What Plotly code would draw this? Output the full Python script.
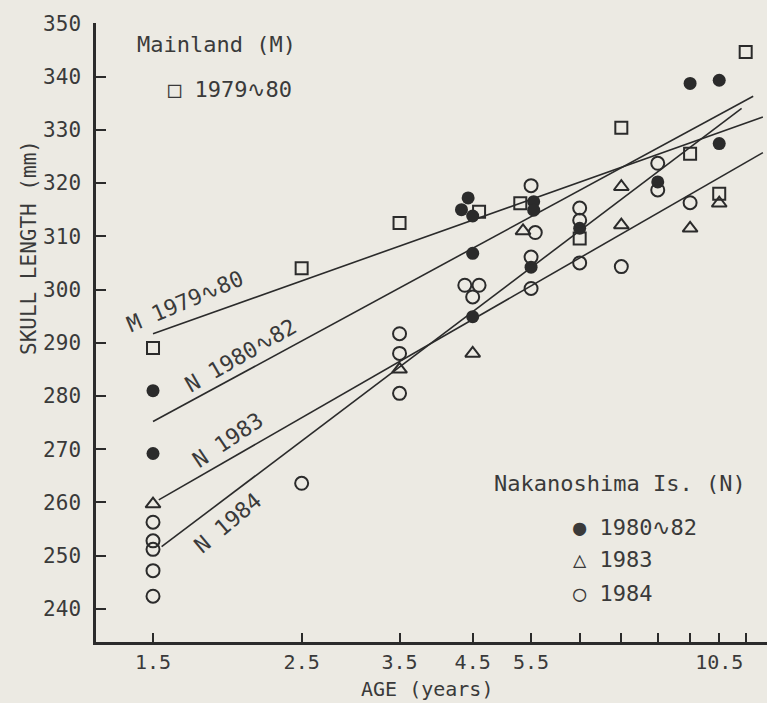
import plotly.graph_objects as go

# ---------------- data ----------------
x_tick_vals = [1.5, 2.5, 3.5, 4.5, 5.5, 6.5, 7.5, 8.5, 9.5, 10.5, 11.5]
x_tick_text = ["1.5", "2.5", "3.5", "4.5", "5.5", "", "", "", "", "10.5", ""]
y_tick_vals = [240, 250, 260, 270, 280, 290, 300, 310, 320, 330, 340, 350]

# Mainland (M) 1979~80 : open squares
m7980_age = [1.5, 2.5, 3.5, 4.6, 5.3, 6.5, 7.5, 9.5, 10.5, 11.5]
m7980_len = [289.0, 304.0, 312.5, 314.6, 316.2, 309.6, 330.4, 325.5, 318.0, 344.6]

# Nakanoshima (N) 1980~82 : filled circles
n8082_age = [1.5, 1.5, 4.33, 4.43, 4.5, 4.5, 4.5, 5.55, 5.55, 5.5, 6.5, 8.5, 9.5, 10.5, 10.5]
n8082_len = [281.0, 269.2, 315.0, 317.2, 313.8, 306.8, 294.9, 316.5, 314.9, 304.2, 311.5,
             320.2, 338.7, 339.3, 327.4]

# Nakanoshima (N) 1983 : open triangles
n83_age = [1.5, 3.5, 4.5, 5.35, 7.5, 7.5, 9.5, 10.5]
n83_len = [259.7, 285.0, 288.0, 311.0, 319.3, 312.1, 311.5, 316.2]

# Nakanoshima (N) 1984 : open circles
n84_age = [1.5, 1.5, 1.5, 1.5, 1.5, 2.5, 3.5, 3.5, 3.5, 4.38, 4.6, 4.5,
           5.5, 5.58, 5.5, 5.5, 6.5, 6.5, 6.5, 7.5, 8.5, 8.5, 9.5]
n84_len = [256.3, 252.8, 251.2, 247.2, 242.4, 263.6, 291.7, 288.0, 280.5, 300.8, 300.8, 298.6,
           319.5, 310.7, 306.1, 300.2, 315.3, 313.0, 305.0, 304.3, 323.7, 318.7, 316.3]

# fitted lines (end points)
fit_m7980_age = [1.5, 12.2]
fit_m7980_len = [291.7, 332.4]
fit_n8082_age = [1.5, 11.8]
fit_n8082_len = [275.2, 336.3]
fit_n83_age = [1.53, 12.2]
fit_n83_len = [260.5, 325.7]
fit_n84_age = [1.545, 11.34]
fit_n84_len = [251.7, 334.0]

# ---------------- style ----------------
BG = "#eceae3"
INK = "#2b2b2b"
TXT = "#3a3a3a"
FONT = "DejaVu Sans Mono"

W, H = 767, 703
L, R, T, B = 96, 0, 23, 61


def px(xp):
    return (xp - L) / (W - L - R)


def py(yp):
    return (H - B - yp) / (H - T - B)


fig = go.Figure()

for xs, ys in [(fit_m7980_age, fit_m7980_len), (fit_n8082_age, fit_n8082_len),
               (fit_n83_age, fit_n83_len), (fit_n84_age, fit_n84_len)]:
    fig.add_trace(go.Scatter(x=xs, y=ys, mode="lines",
                             line=dict(color=INK, width=1.6), hoverinfo="skip"))

fig.add_trace(go.Scatter(x=m7980_age, y=m7980_len, mode="markers", name="M 1979~80",
                         marker=dict(symbol="square-open", size=12, color=INK,
                                     line=dict(width=2, color=INK))))
fig.add_trace(go.Scatter(x=n8082_age, y=n8082_len, mode="markers", name="N 1980~82",
                         marker=dict(symbol="circle", size=13, color=INK,
                                     line=dict(width=0))))
fig.add_trace(go.Scatter(x=n83_age, y=n83_len, mode="markers", name="N 1983",
                         marker=dict(symbol="triangle-up-open", size=13, color=INK,
                                     line=dict(width=2, color=INK))))
fig.add_trace(go.Scatter(x=n84_age, y=n84_len, mode="markers", name="N 1984",
                         marker=dict(symbol="circle-open", size=13, color=INK,
                                     line=dict(width=2, color=INK))))

ann = []


def text(t, xp, yp, size=22, angle=0, xanchor="center"):
    ann.append(dict(text=t, x=px(xp), y=py(yp), xref="paper", yref="paper",
                    showarrow=False, textangle=angle, xanchor=xanchor, yanchor="middle",
                    font=dict(family=FONT, size=size, color=TXT)))


text("Mainland (M)", 135, 45, xanchor="left")
text("□ 1979∿80", 166, 90, xanchor="left")
text("Nakanoshima Is. (N)", 620, 483)
text("● 1980∿82", 571, 527, xanchor="left")
text("△ 1983", 571, 559, xanchor="left")
text("○ 1984", 571, 593, xanchor="left")

text("M 1979∿80", 185, 301, angle=-23)
text("N 1980∿82", 241, 356, angle=-30)
text("N 1983", 227, 440, angle=-34)
text("N 1984", 227, 523, angle=-40)

text("SKULL LENGTH (mm)", 29, 248, size=21, angle=-90)
text("AGE (years)", 427, 689, size=20)

fig.update_layout(
    width=W, height=H,
    margin=dict(l=L, r=R, t=T, b=B, pad=0),
    paper_bgcolor=BG, plot_bgcolor=BG,
    showlegend=False,
    font=dict(family=FONT, size=21, color=TXT),
    annotations=ann,
)
fig.update_xaxes(type="log", range=[0.0910, 1.0925],
                 tickmode="array", tickvals=x_tick_vals, ticktext=x_tick_text,
                 tickfont=dict(size=20),
                 ticks="inside", ticklen=9, tickwidth=2, tickcolor=INK,
                 showline=True, linewidth=2.5, linecolor=INK,
                 showgrid=False, zeroline=False, ticklabelstandoff=0)
fig.update_yaxes(range=[233.8, 350.05],
                 tickmode="array", tickvals=y_tick_vals,
                 ticks="inside", ticklen=10, tickwidth=2, tickcolor=INK,
                 showline=True, linewidth=2.5, linecolor=INK,
                 showgrid=False, zeroline=False, ticklabelstandoff=8)

fig.write_html("out.html", config={"displayModeBar": False},
               post_script="document.body.style.margin='0';document.body.style.overflow='hidden';")
